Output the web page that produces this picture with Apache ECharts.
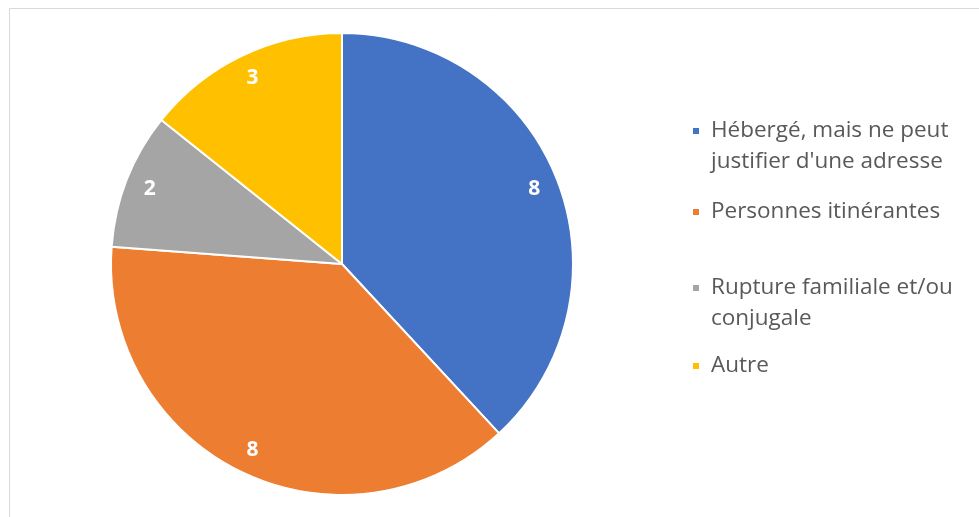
<!DOCTYPE html>
<html>
<head>
<meta charset="utf-8">
<script src="https://cdn.jsdelivr.net/npm/echarts@6/dist/echarts.min.js"></script>
<style>
html,body{margin:0;padding:0;background:#fff;}
#chart{width:979px;height:517px;}
</style>
</head>
<body>
<div id="chart"></div>
<script>
const categories = ["Hébergé, mais ne peut\njustifier d'une adresse", "Personnes itinérantes", "Rupture familiale et/ou\nconjugale", "Autre"];
const values = [8, 8, 2, 3];
const colors = ["#4472C4", "#ED7D31", "#A5A5A5", "#FFC000"];
const legendTops = [84.5, 196.5, 241.5, 350.5];

const data = categories.map((c, i) => ({ name: c, value: values[i], itemStyle: { color: colors[i] } }));

const legends = categories.map((c, i) => ({
  orient: 'vertical',
  left: 691,
  top: legendTops[i],
  padding: 0,
  itemWidth: 8,
  itemHeight: 8,
  icon: 'rect',
  data: [c],
  // a leading blank line keeps the marker level with the first text line
  formatter: c.indexOf('\n') >= 0 ? ' \n' + c : c,
  textStyle: {
    fontFamily: 'Open Sans',
    fontSize: 22.5,
    color: '#595959',
    lineHeight: 31,
    padding: [0, 0, 0, 6]
  }
}));

const chart = echarts.init(document.getElementById('chart'));
chart.setOption({
  animation: false,
  graphic: [{
    type: 'rect',
    shape: { x: 9.5, y: 8.5, width: 1100, height: 700 },
    style: { fill: 'none', stroke: '#d9d9d9', lineWidth: 1 },
    silent: true, z: -1
  }],
  legend: legends,
  series: [{
    type: 'pie',
    center: [342, 264],
    radius: [0, 231],
    startAngle: 90,
    clockwise: true,
    data: data,
    itemStyle: { borderColor: '#fff', borderWidth: 2 },
    label: { show: false },
    labelLine: { show: false }
  }, {
    type: 'pie',
    center: [342, 264],
    radius: [176, 231],
    startAngle: 90,
    clockwise: true,
    silent: true,
    legendHoverLink: false,
    data: categories.map((c, i) => ({ name: c, value: values[i] })),
    itemStyle: { color: 'rgba(0,0,0,0)', borderWidth: 0 },
    label: {
      show: true,
      position: 'inside',
      formatter: '{c}',
      color: '#fff',
      fontWeight: 'bold',
      fontSize: 21,
      fontFamily: 'Open Sans'
    },
    labelLine: { show: false }
  }]
});
</script>
</body>
</html>
